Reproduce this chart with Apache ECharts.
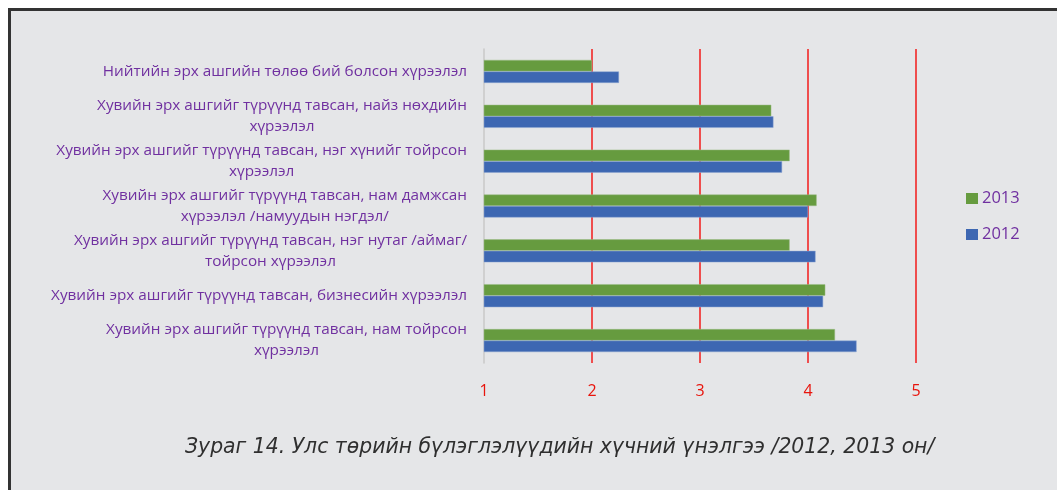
<!DOCTYPE html>
<html>
<head>
<meta charset="utf-8">
<script src="https://cdn.jsdelivr.net/npm/echarts@6/dist/echarts.min.js"></script>
<style>
  html, body { margin: 0; padding: 0; background: #ffffff; }
  .panel {
    position: absolute; left: 8px; top: 8px; width: 1100px; height: 600px;
    background: #e5e6e8; border: 3px solid #333333; box-sizing: border-box;
  }
  #main { position: absolute; left: 0; top: 0; width: 1057px; height: 490px; }
</style>
</head>
<body>
<div class="panel"></div>
<div id="main"></div>
<script>
// категориуд (дээрээс доош)
var categories = [
  'Нийтийн эрх ашгийн төлөө бий болсон хүрээлэл',
  'Хувийн эрх ашгийг түрүүнд тавсан, найз нөхдийн\nхүрээлэл',
  'Хувийн эрх ашгийг түрүүнд тавсан, нэг хүнийг тойрсон\nхүрээлэл',
  'Хувийн эрх ашгийг түрүүнд тавсан, нам дамжсан\nхүрээлэл /намуудын нэгдэл/',
  'Хувийн эрх ашгийг түрүүнд тавсан, нэг нутаг /аймаг/\nтойрсон хүрээлэл',
  'Хувийн эрх ашгийг түрүүнд тавсан, бизнесийн хүрээлэл',
  'Хувийн эрх ашгийг түрүүнд тавсан, нам тойрсон\nхүрээлэл'
];
var values2013 = [2.00, 3.66, 3.83, 4.08, 3.83, 4.16, 4.25];
var values2012 = [2.25, 3.68, 3.76, 4.00, 4.07, 4.14, 4.45];
var caption = 'Зураг 14. Улс төрийн бүлэглэлүүдийн хүчний үнэлгээ /2012, 2013 он/';

var labelFont = '"Open Sans", "Noto Sans", sans-serif';
var purple = '#7030a0';

var myChart = echarts.init(document.getElementById('main'));
myChart.setOption({
  backgroundColor: 'transparent',
  animation: false,
  title: {
    text: caption,
    left: 180,
    top: 433,
    textStyle: {
      fontFamily: '"DejaVu Sans", sans-serif',
      fontStyle: 'italic',
      fontWeight: 200,
      fontSize: 20.4,
      color: '#2f2f2f'
    }
  },
  legend: {
    orient: 'vertical',
    left: 966,
    top: 190,
    padding: 0,
    itemGap: 19,
    icon: 'rect',
    itemWidth: 12,
    itemHeight: 11,
    data: ['2013', '2012'],
    itemStyle: { borderWidth: 0 },
    textStyle: { color: purple, fontSize: 16.5, fontFamily: labelFont, padding: [0, 0, 0, -1] }
  },
  grid: { left: 484, top: 49, right: 141, bottom: 127 },
  xAxis: {
    type: 'value',
    min: 1,
    max: 5,
    interval: 1,
    axisLine: { show: false },
    axisTick: { show: false },
    axisLabel: { color: '#e8140c', fontSize: 16, fontFamily: labelFont, margin: 20 },
    splitLine: { show: true, showMinLine: false, lineStyle: { color: '#f21b1b', width: 1.5 } }
  },
  yAxis: {
    type: 'category',
    inverse: true,
    data: categories,
    axisLine: { show: true, lineStyle: { color: '#c8c8c8', width: 1.5 } },
    axisTick: { show: false },
    axisLabel: {
      margin: 17,
      formatter: function (v) {
        return v.split('\n').map(function (s) { return '{c|' + s + '}'; }).join('\n');
      },
      rich: {
        c: { align: 'center', color: purple, fontSize: 15.3, lineHeight: 21, fontFamily: labelFont }
      }
    }
  },
  series: [
    {
      name: '2013',
      type: 'bar',
      data: values2013,
      barWidth: 11.5,
      barGap: '0%',
      itemStyle: { color: '#669b3f', borderColor: '#9dbd86', borderWidth: 0.5 }
    },
    {
      name: '2012',
      type: 'bar',
      data: values2012,
      barWidth: 11.5,
      barGap: '0%',
      itemStyle: { color: '#3d67b2', borderColor: '#8ea6d2', borderWidth: 0.5 }
    }
  ]
});
</script>
</body>
</html>
